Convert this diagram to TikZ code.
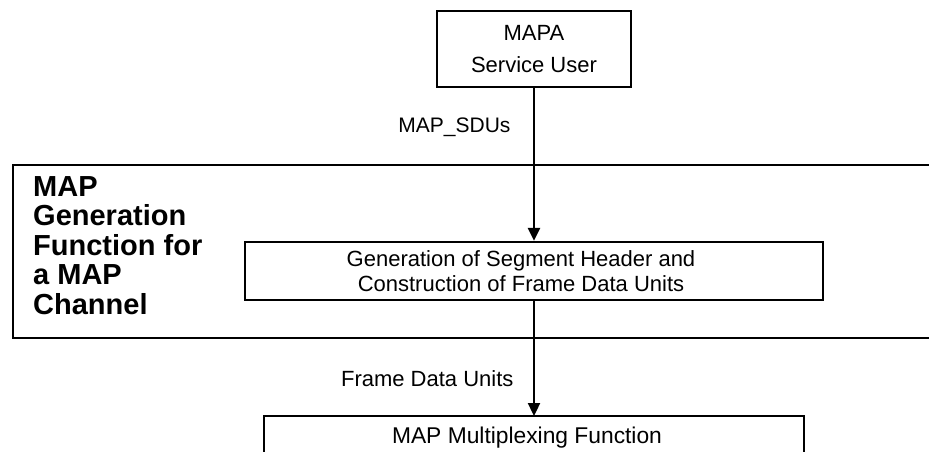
\documentclass[tikz,border=0pt]{standalone}
\usepackage{fontspec}
\setmainfont{Liberation Sans}
\usetikzlibrary{arrows.meta}
\begin{document}
\begin{tikzpicture}[x=1pt,y=-1pt,
  box/.style={draw,line width=2.3pt},
  lbl/.style={font=\fontsize{22}{25}\selectfont},
  flow/.style={line width=2.3pt,-{Triangle[length=13pt,width=12pt]}}]
\useasboundingbox (0,0) rectangle (929,451);
\clip (0,0) rectangle (929,451);
% top box
\node[box,minimum width=194pt,minimum height=76pt,align=center,
      font=\fontsize{22}{32}\selectfont] (user) at (534,49) {MAPA\\Service User};
% big box
\draw[box] (940,165) -- (13,165) -- (13,338) -- (940,338);
\node[anchor=north west,align=left,inner sep=0pt,
      font=\fontsize{29}{29.5}\selectfont\bfseries] (title) at (33,176)
  {MAP\\Generation\\Function for\\a MAP\\Channel};
% inner box
\node[box,minimum width=578pt,minimum height=58pt] (gen) at (534,271) {};
\node[align=center,font=\fontsize{22}{25}\selectfont] (gentext) at (521,271)
  {Generation of Segment Header and\\Construction of Frame Data Units};
% bottom box
\coordinate (mtl) at (264,416);
\coordinate (mtr) at (804,416);
\draw[box] (264,470) -- (mtl) -- (mtr) -- (804,470);
\node[font=\fontsize{22.8}{25}\selectfont] (mux) at (527,438) {MAP Multiplexing Function};
% connectors
\draw[flow] (user.south) -- (gen.north);
\node[lbl,anchor=east,font=\fontsize{21}{25}\selectfont] (sdu) at (514,127) {MAP\_SDUs};
\coordinate (muxtop) at (534,416);
\draw[flow] (gen.south) -- (muxtop);
\node[lbl,anchor=east] (fdu) at (517,379) {Frame Data Units};
\end{tikzpicture}
\end{document}
